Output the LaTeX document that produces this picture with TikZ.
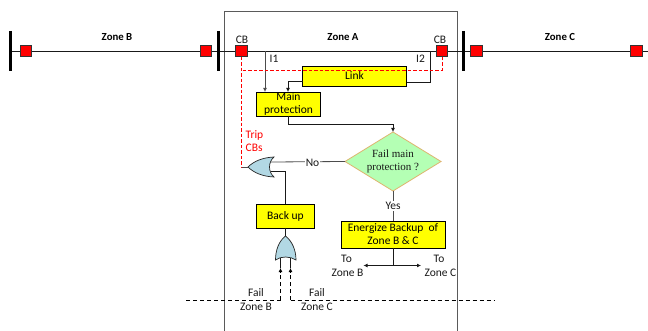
\documentclass[tikz,border=0pt]{standalone}
\usepackage{fontspec}
\setmainfont{Carlito}
\newfontfamily\serifdg{Liberation Serif}
\usetikzlibrary{arrows.meta,shapes.geometric,calc}
\definecolor{cbred}{RGB}{255,0,0}
\definecolor{boxyel}{RGB}{255,255,0}
\definecolor{dgreen}{RGB}{180,255,180}
\definecolor{dedge}{RGB}{222,180,110}
\definecolor{gateblue}{RGB}{178,216,228}
\definecolor{framegray}{RGB}{90,90,90}
\tikzset{
  cbbox/.style={draw=black!80,fill=cbred,line width=.8pt,minimum size=11.5pt,inner sep=0,outer sep=0},
  busbar/.style={line width=2.8pt,black},
  yelbox/.style={draw=black,fill=boxyel,line width=.8pt,inner sep=0,outer sep=0,align=center,font=\fontsize{11.5}{13}\selectfont},
  lbl/.style={inner sep=0,outer sep=0,align=center,font=\fontsize{11.5}{13.3}\selectfont,text=black!90},
  zonelbl/.style={inner sep=0,outer sep=0,font=\fontsize{10.8}{12}\selectfont\bfseries},
  wire/.style={line width=.8pt,black!90},
  arrowwire/.style={wire,-{Latex[length=4pt,width=4pt]}},
  tripline/.style={line width=.8pt,cbred,dash pattern=on 3.5pt off 2pt},
  failline/.style={line width=.8pt,black,dash pattern=on 4pt off 3pt},
  gateshape/.style={draw=black!85,fill=gateblue,line width=.7pt}
}
\begin{document}
\begin{tikzpicture}[x=1pt,y=-1pt]
\useasboundingbox (0,0) rectangle (648,331);
% frame
\draw[framegray,line width=1pt] (224,331) -- (224,12) -- (457,12) -- (457,331);
% main line
\coordinate (lineL) at (10.5,51);
\coordinate (lineR) at (648,51);
\draw[wire] (lineL) -- (lineR);
% bus bars
\coordinate (b1t) at (10.5,31); \coordinate (b1b) at (10.5,71);
\coordinate (b2t) at (218.5,31); \coordinate (b2b) at (218.5,71);
\coordinate (b3t) at (463.5,31); \coordinate (b3b) at (463.5,71);
\draw[busbar] (b1t) -- (b1b);
\draw[busbar] (b2t) -- (b2b);
\draw[busbar] (b3t) -- (b3b);
% breakers
\node[cbbox] (cb1) at (26,51) {};
\node[cbbox] (cb2) at (206,51) {};
\node[cbbox] (cb3) at (241.5,51) {};
\node[cbbox] (cb4) at (442,51) {};
\node[cbbox] (cb5) at (476.5,51) {};
\node[cbbox] (cb6) at (636.5,51) {};
% labels top
\node[zonelbl] (zb) at (117,37.5) {Zone B};
\node[zonelbl] (za) at (343,37.5) {Zone A};
\node[zonelbl] (zc) at (560,37.5) {Zone C};
\node[lbl] (cbl1) at (242,39.5) {CB};
\node[lbl] (cbl2) at (440,39.5) {CB};
\node[lbl] (i1) at (274,58.5) {I1};
\node[lbl] (i2) at (420.5,58.5) {I2};
% boxes
\node[yelbox,minimum width=104pt,minimum height=20pt] (link) at (354.5,76) {Link};
\node[yelbox,minimum width=64pt,minimum height=24pt] (main) at (288.5,104) {Main\\protection};
\node[diamond,draw=dedge,fill=dgreen,line width=.8pt,minimum width=96pt,minimum height=59pt,inner sep=0,outer sep=0] (dec) at (393,161.5) {};
\node[inner sep=0,align=center,font=\fontsize{11}{13}\serifdg\selectfont,text=black!90] (dectxt) at (393,161) {Fail main\\protection ?};
\node[yelbox,minimum width=58pt,minimum height=24pt] (backup) at (285.5,216) {Back up};
\node[yelbox,minimum width=104pt,minimum height=27pt] (energ) at (393,234.5) {Energize Backup~ of\\Zone B \& C};
% junctions
\coordinate (i1top) at (265,51);
\coordinate (i1end) at (265,92);
\coordinate (lkL) at ($(link.west)+(0,5)$);
\coordinate (lkLc) at (288,81);
\coordinate (mainIn) at (288,92);
\coordinate (lkR) at (407,82);
\coordinate (lkRc) at (430,82);
\coordinate (lkRt) at (430,51);
% I1, I2
\draw[arrowwire,black!70] (i1top) -- (i1end);
\draw[arrowwire] (lkL) -- (lkLc) -- (mainIn);
\draw[wire] (lkR) -- (lkRc) -- (lkRt);
% main -> decision
\coordinate (mb) at (288,116);
\coordinate (mc) at (288,124.5);
\coordinate (md) at (393,124.5);
\draw[arrowwire] (mb) -- (mc) -- (md) -- (dec.north);
% OR gate 1 (points left)
\coordinate (g1tip) at (248,167);
\coordinate (g1top) at (274,157);
\coordinate (g1bot) at (274,177);
\coordinate (g1a) at (271,162);
\coordinate (g1b) at (271,171.5);
\coordinate (g1elbow) at (285.5,171.5);
\draw[wire,black!70] (dec.west) -- (g1a);
\draw[wire] (backup.north) -- (g1elbow) -- (g1b);
\draw[gateshape] (g1tip) .. controls (254,161) and (263,157.5) .. (g1top)
  .. controls (268,162) and (268,172) .. (g1bot)
  .. controls (263,176.5) and (254,173) .. (g1tip) -- cycle;
% OR gate 2 (points up)
\coordinate (g2tip) at (285.5,236);
\coordinate (g2l) at (275.5,260);
\coordinate (g2r) at (296,260);
\draw[wire] (backup.south) -- (g2tip);
\coordinate (f1a) at (280.5,258);
\coordinate (f2a) at (290.5,258);
\coordinate (f1m) at (280.5,268);
\coordinate (f2m) at (290.5,268);
\coordinate (f1d) at (280.5,300);
\coordinate (f2d) at (290.5,300);
\draw[gateshape] (g2tip) .. controls (279,241) and (275.5,250) .. (g2l)
  .. controls (281,256) and (290,256) .. (g2r)
  .. controls (296,250) and (292,241) .. (g2tip) -- cycle;
\draw[wire] (f1a) -- (f1m);
\draw[wire] (f2a) -- (f2m);
\draw[failline,-{Latex[length=4pt,width=4pt]}] (f1d) -- (f1m);
\draw[failline,-{Latex[length=4pt,width=4pt]}] (f2d) -- (f2m);
% dashed horizontal
\coordinate (dl) at (186,300);
\coordinate (dr) at (495,300);
\draw[failline] (dl) -- (f1d);
\draw[failline] (f2d) -- (dr);
\node[lbl] (f1) at (256,293) {Fail};
\node[lbl] (f1z) at (256,306.5) {Zone B};
\node[lbl] (f2) at (317,293) {Fail};
\node[lbl] (f2z) at (317,306.5) {Zone C};
% No / Yes
\node[lbl,fill=white,inner xsep=.5pt] (no) at (312.5,162.5) {No};
\draw[wire,black!70] (dec.south) -- (energ.north);
\node[lbl,fill=white,inner ysep=1pt] (yes) at (393,206) {Yes};
% energize outputs
\coordinate (eb) at (393,265.5);
\coordinate (el) at (363.5,265.5);
\coordinate (er) at (421,265.5);
\draw[wire] (energ.south) -- (eb);
\draw[wire,{Latex[length=4pt,width=4pt]}-{Latex[length=4pt,width=4pt]}] (el) -- (er);
\node[lbl] (to1) at (346.5,258.5) {To};
\node[lbl] (to1z) at (347.5,272.5) {Zone B};
\node[lbl] (to2) at (439,258.5) {To};
\node[lbl] (to2z) at (440.5,272.5) {Zone C};
% trip
\coordinate (t1) at (241.5,167);
\coordinate (t2) at (242.5,70);
\coordinate (t3) at (442,70);
\draw[tripline] (cb3.south) -- (t1);
\draw[wire,black!70] (t1) -- (g1tip);
\draw[tripline] (t2) -- (t3) -- (cb4.south);
\node[lbl,text=cbred,align=left] (trip) at (254.5,141) {Trip\\CBs};
\end{tikzpicture}
\end{document}
